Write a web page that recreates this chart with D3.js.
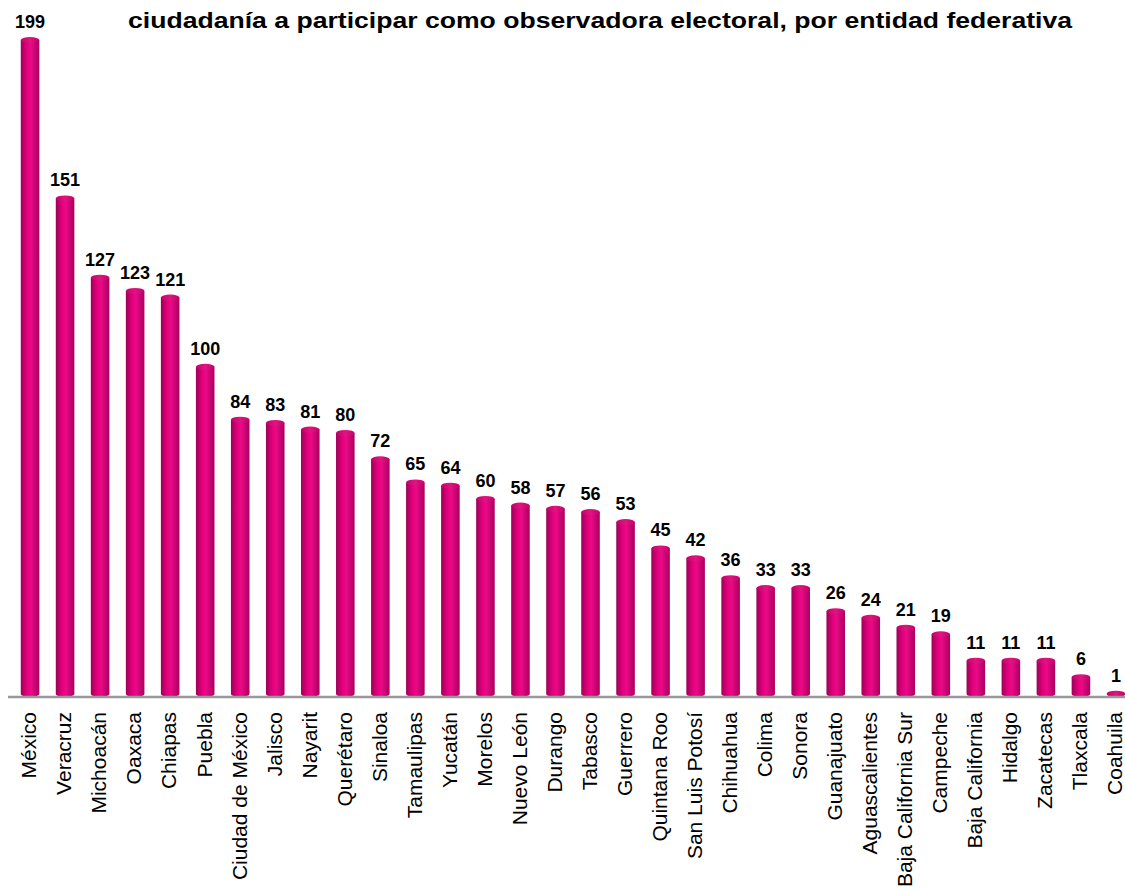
<!DOCTYPE html>
<html>
<head>
<meta charset="utf-8">
<script src="https://cdn.jsdelivr.net/npm/d3@7"></script>
<style>
  body { margin: 0; background: #fff; }
  svg { display: block; font-family: "Liberation Sans", Arial, sans-serif; }
</style>
</head>
<body>
<svg id="chart" width="1125" height="891"></svg>
<script>
const entidades = ["México", "Veracruz", "Michoacán", "Oaxaca", "Chiapas", "Puebla", "Ciudad de México",
  "Jalisco", "Nayarit", "Querétaro", "Sinaloa", "Tamaulipas", "Yucatán", "Morelos", "Nuevo León",
  "Durango", "Tabasco", "Guerrero", "Quintana Roo", "San Luis Potosí", "Chihuahua", "Colima", "Sonora",
  "Guanajuato", "Aguascalientes", "Baja California Sur", "Campeche", "Baja California", "Hidalgo",
  "Zacatecas", "Tlaxcala", "Coahuila"];
const solicitudes = [199, 151, 127, 123, 121, 100, 84, 83, 81, 80, 72, 65, 64, 60, 58, 57, 56, 53, 45,
  42, 36, 33, 33, 26, 24, 21, 19, 11, 11, 11, 6, 1];
const titulo = "ciudadanía a participar como observadora electoral, por entidad federativa";

const svg = d3.select("#chart");
const left = 12, right = 1134, base = 697;

const x = d3.scaleBand().domain(entidades).range([left, right]).paddingInner(0.47).paddingOuter(0.25);
const y = d3.scaleLinear().domain([0, 199]).range([base, 40]);

// cylinder gradient
const defs = svg.append("defs");
const grad = defs.append("linearGradient").attr("id", "cyl").attr("x1", 0).attr("x2", 1).attr("y1", 0).attr("y2", 0);
grad.append("stop").attr("offset", "0%").attr("stop-color", "#9c0058");
grad.append("stop").attr("offset", "35%").attr("stop-color", "#e6007e");
grad.append("stop").attr("offset", "55%").attr("stop-color", "#ea0a86");
grad.append("stop").attr("offset", "100%").attr("stop-color", "#a8005f");
const capGrad = defs.append("linearGradient").attr("id", "cap").attr("x1", 0).attr("x2", 1);
capGrad.append("stop").attr("offset", "0%").attr("stop-color", "#c4006c");
capGrad.append("stop").attr("offset", "50%").attr("stop-color", "#e0157f");
capGrad.append("stop").attr("offset", "100%").attr("stop-color", "#c4006c");

svg.append("text")
  .attr("x", 128).attr("y", 28)
  .attr("textLength", 944).attr("lengthAdjust", "spacingAndGlyphs")
  .style("font-size", "21.5px").style("font-weight", "bold")
  .text(titulo);

const g = svg.append("g");
const bw = x.bandwidth(), ry = 3;

const bars = g.selectAll(".bar").data(entidades).enter().append("g").attr("class", "bar");
bars.append("path")
  .attr("fill", "url(#cyl)")
  .attr("d", (d, i) => {
    const x0 = x(d), x1 = x0 + bw, yt = y(solicitudes[i]);
    return `M${x0},${yt} L${x0},${base - ry} A${bw / 2},${ry} 0 0 0 ${x1},${base - ry} L${x1},${yt} Z`;
  });
bars.append("ellipse")
  .attr("fill", "url(#cap)")
  .attr("cx", d => x(d) + bw / 2)
  .attr("cy", (d, i) => y(solicitudes[i]))
  .attr("rx", bw / 2).attr("ry", ry);

bars.append("text")
  .attr("x", d => x(d) + bw / 2)
  .attr("y", (d, i) => y(solicitudes[i]) - 12)
  .attr("text-anchor", "middle")
  .style("font-size", "18px").style("font-weight", "bold")
  .text((d, i) => solicitudes[i]);

// axis
const ax = svg.append("g").attr("transform", `translate(0,${base})`)
  .call(d3.axisBottom(x).tickSize(0).tickPadding(0));
ax.select(".domain").attr("stroke", "#999").attr("stroke-width", 2.5).attr("d", `M8,0H1125`);
ax.selectAll(".tick text")
  .attr("transform", "rotate(-90)")
  .attr("x", -15).attr("y", 0).attr("dy", "0.3em")
  .attr("text-anchor", "end")
  .style("font-size", "21px").style("font-family", "Liberation Sans, Arial, sans-serif")
  .attr("fill", "#000");
</script>
</body>
</html>
